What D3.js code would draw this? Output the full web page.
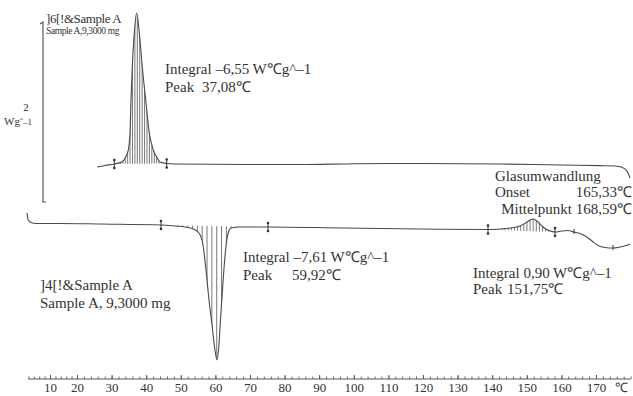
<!DOCTYPE html>
<html><head><meta charset="utf-8">
<script src="https://cdn.jsdelivr.net/npm/d3@7"></script>
<style>
html,body{margin:0;padding:0;background:#fff;}
svg{display:block;}
</style></head>
<body>
<svg id="c" width="633" height="396"></svg>
<script>
// ---------- data (temperature in °C, heat flow in W/g) ----------
const tickValues = [10,20,30,40,50,60,70,80,90,100,110,120,130,140,150,160,170];
const unitLabel = "℃";

// first run (upper curve)
const upperCurve = [
  [25.78,0.402],[28.09,0.420],[30.78,0.437],[32.92,0.460],[34.08,0.517],[34.83,0.598],
  [35.32,0.793],[35.61,1.172],[35.98,1.552],[36.56,1.943],[37.25,2.172],[38.01,1.943],
  [38.87,1.552],[39.86,1.172],[40.90,0.793],[42.05,0.598],[43.03,0.517],[43.99,0.460],
  [45.92,0.443],[48.32,0.437],[70.0,0.431],[84.45,0.431],[100.35,0.440],[119.13,0.443],
  [142.25,0.437],[159.6,0.425],[171.16,0.418],[175.5,0.414],[177.5,0.400],[178.96,0.355],[179.83,0.276]
];
// second run (lower curve)
const lowerCurve = [
  [1.48,-0.126],[1.85,-0.195],[2.96,-0.236],[4.81,-0.247],[13.7,-0.247],[26.65,-0.253],
  [44.28,-0.264],[48.32,-0.276],[51.21,-0.287],[53.53,-0.310],[55.26,-0.356],[56.42,-0.494],
  [57.28,-0.782],[58.15,-1.126],[59.02,-1.414],[59.88,-1.701],[60.46,-1.816],[60.9,-1.701],
  [61.47,-1.356],[62.05,-1.011],[62.63,-0.690],[63.21,-0.460],[63.79,-0.345],[64.51,-0.299],
  [67.11,-0.287],[75.2,-0.287],[96.88,-0.299],[119.13,-0.310],[138.79,-0.316],[142.25,-0.310],
  [145.14,-0.299],[148.03,-0.276],[150.06,-0.230],[151.79,-0.195],[153.24,-0.230],[154.68,-0.287],
  [156.42,-0.328],[158.15,-0.345],[160.17,-0.333],[161.91,-0.328],[163.64,-0.345],[165.38,-0.362],
  [167.11,-0.397],[168.84,-0.448],[170.58,-0.500],[172.6,-0.523],[174.91,-0.529],[176.94,-0.517],
  [178.67,-0.500],[179.83,-0.483]
];
const upperLimits = [30.78, 45.92];
const lowerLimits = [44.28, 75.2];
const smallLimits = [138.79, 158.15];
const glassMarks = [163.64, 174.91];
const scaleBar = [0, 2];

const upperLabel = ["]6[!&Sample A", "Sample A,9,3000 mg"];
const lowerLabel = ["]4[!&Sample A", "Sample A, 9,3000 mg"];
const peak1 = ["Integral –6,55 W℃g^–1", "Peak", "37,08℃"];
const peak2 = ["Integral –7,61 W℃g^–1", "Peak", "59,92℃"];
const peak3 = ["Integral 0,90 W℃g^–1", "Peak", "151,75℃"];
const glass = ["Glasumwandlung", "Onset", "165,33℃", "Mittelpunkt 168,59℃"];

// ---------- scales ----------
const FONT = '"Liberation Serif"';
const svg = d3.select("#c").style("font-family", FONT);
const x = d3.scaleLinear().domain([10, 20, 170]).range([50, 77, 596]);
const y = d3.scaleLinear().domain([0, 2]).range([202, 28]);
const curveCol = "#4a4a4a";
const textCol = "#333";

const line = d3.line().x(d => x(d[0])).y(d => y(d[1])).curve(d3.curveMonotoneX);

function valueAt(data, t) {
  const i = d3.bisector(d => d[0]).left(data, t);
  if (i <= 0) return data[0][1];
  if (i >= data.length) return data[data.length - 1][1];
  const a = data[i - 1], b = data[i];
  return a[1] + (b[1] - a[1]) * (t - a[0]) / (b[0] - a[0]);
}

let clipId = 0;
function hatch(data, lim, step) {
  const [a, b] = lim;
  const va = valueAt(data, a), vb = valueAt(data, b);
  const base = t => va + (vb - va) * (t - a) / (b - a);
  const pts = [[a, va]].concat(data.filter(d => d[0] > a && d[0] < b)).concat([[b, vb]]);
  const area = d3.area().x(d => x(d[0])).y0(d => y(base(d[0]))).y1(d => y(d[1])).curve(d3.curveMonotoneX);
  const id = "clip" + (clipId++);
  svg.append("clipPath").attr("id", id).append("path").attr("d", area(pts));
  const g = svg.append("g").attr("clip-path", `url(#${id})`);
  const ts = d3.range(a + step / 2, b, step);
  g.selectAll("line").data(ts).join("line")
    .attr("x1", t => x(t)).attr("x2", t => x(t))
    .attr("y1", 0).attr("y2", 396)
    .attr("stroke", "#555").attr("stroke-width", 0.8);
}

function limitMarks(data, ts) {
  ts.forEach(t => {
    const cx = x(t), cy = y(valueAt(data, t));
    svg.append("line").attr("x1", cx).attr("x2", cx).attr("y1", cy - 5).attr("y2", cy + 5)
      .attr("stroke", "#333").attr("stroke-width", 1);
    svg.append("circle").attr("cx", cx).attr("cy", cy - 4).attr("r", 1.3).attr("fill", "#333");
    svg.append("circle").attr("cx", cx).attr("cy", cy + 4).attr("r", 1.3).attr("fill", "#333");
  });
}

function label(xp, yp, size, str, opts = {}) {
  const t = svg.append("text").attr("x", xp).attr("y", yp).attr("font-size", size)
    .attr("fill", textCol).style("font-family", FONT).text(str);
  if (opts.anchor) t.attr("text-anchor", opts.anchor);
  if (opts.ls !== undefined) t.attr("letter-spacing", opts.ls);
  return t;
}

// hatching
hatch(upperCurve, upperLimits, 0.7);
hatch(lowerCurve, lowerLimits, 1.4);
hatch(lowerCurve, smallLimits, 0.9);

// curves
svg.append("path").attr("d", line(upperCurve)).attr("fill", "none").attr("stroke", curveCol).attr("stroke-width", 1.1);
svg.append("path").attr("d", line(lowerCurve)).attr("fill", "none").attr("stroke", curveCol).attr("stroke-width", 1.1);

limitMarks(upperCurve, upperLimits);
limitMarks(lowerCurve, lowerLimits);
limitMarks(lowerCurve, smallLimits);
glassMarks.forEach(t => {
  const cx = x(t), cy = y(valueAt(lowerCurve, t));
  svg.append("line").attr("x1", cx).attr("x2", cx).attr("y1", cy - 3).attr("y2", cy + 2)
    .attr("stroke", "#333").attr("stroke-width", 1);
});

// scale bar
const sbX = 43;
svg.append("path")
  .attr("d", `M${sbX - 3},${y(scaleBar[1]) - 4} L${sbX},${y(scaleBar[1]) - 6} L${sbX},${y(scaleBar[0])} L${sbX + 3},${y(scaleBar[0])}`)
  .attr("fill", "none").attr("stroke", "#555").attr("stroke-width", 1.2);
const sbl = svg.append("text").attr("x", 4).attr("y", 125).attr("font-size", 11)
  .attr("fill", textCol).style("font-family", FONT);
sbl.append("tspan").text("Wg");
sbl.append("tspan").attr("font-size", 9).text("ˆ–1");
label(26, 111, 11, String(scaleBar[1]), {anchor: "middle"});

// x axis
const axisY = 379;
svg.append("line").attr("x1", x(2)).attr("x2", x(180)).attr("y1", axisY).attr("y2", axisY).attr("stroke", "#555");
const minor = svg.append("g").attr("transform", `translate(0,${axisY})`)
  .call(d3.axisBottom(x).tickValues(d3.range(2, 181, 2)).tickSizeInner(-2.5).tickSizeOuter(0).tickFormat(""));
minor.select(".domain").remove();
minor.selectAll("line").attr("stroke", "#666");
const major = svg.append("g").attr("transform", `translate(0,${axisY})`)
  .call(d3.axisBottom(x).tickValues(tickValues).tickSizeInner(-4).tickSizeOuter(0).tickPadding(4));
major.select(".domain").remove();
major.attr("font-family", null).attr("font-size", null);
major.selectAll("line").attr("stroke", "#555");
major.selectAll("text").attr("font-size", 13).attr("fill", textCol)
  .style("font-family", FONT);
label(x(177.5), 392, 13, unitLabel, {anchor: "middle"});

// texts
label(46, 23, 13, upperLabel[0], {ls: -0.4});
label(46, 34, 9.5, upperLabel[1], {ls: -0.4});
label(40, 290, 15, lowerLabel[0]);
label(40, 308, 15, lowerLabel[1]);

label(165, 74, 15, peak1[0]);
label(165, 92, 15, peak1[1]);
label(202, 92, 15, peak1[2]);

label(243, 262, 15, peak2[0]);
label(243, 280, 15, peak2[1]);
label(292, 280, 15, peak2[2]);

label(473, 278, 15, peak3[0]);
label(473, 294, 15, peak3[1]);
label(507, 294, 15, peak3[2]);

label(495, 181, 15, glass[0]);
label(495, 197, 15, glass[1]);
label(632, 197, 15, glass[2], {anchor: "end"});
label(632, 214, 15, glass[3], {anchor: "end"});
</script>
</body></html>
